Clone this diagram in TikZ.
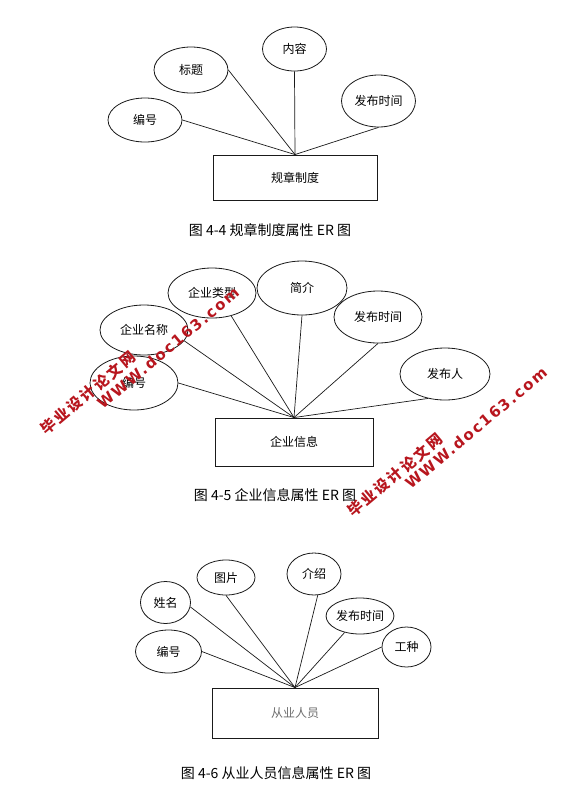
\documentclass[tikz,border=0pt]{standalone}
\usepackage{fontspec}
\setmainfont{Noto Sans CJK SC}
\newfontfamily\markfont[LetterSpace=12]{DejaVu Sans}
\newfontfamily\markcjk[LetterSpace=15]{Noto Sans CJK SC}
\usetikzlibrary{shapes.geometric}
\definecolor{ink}{HTML}{1A1A1A}
\definecolor{soft}{HTML}{6E6E6E}
\definecolor{stamp}{HTML}{B8161E}
\tikzset{
  attr/.style={draw=ink,ellipse,line width=.8pt,inner sep=0pt,
    font=\fontsize{12}{14}\selectfont},
  entity/.style={draw=ink,line width=.9pt,inner sep=0pt,
    font=\fontsize{12}{14}\selectfont},
  link/.style={draw=ink,line width=.7pt},
  figcap/.style={font=\fontsize{14}{16}\selectfont,inner sep=0pt},
  stampnote/.style={text=stamp,rotate=40,inner sep=0pt,
    font=\bfseries\fontsize{15}{17}\selectfont}
}

\begin{document}
\begin{tikzpicture}[x=1pt,y=-1pt]
\useasboundingbox[fill=white] (0,0) rectangle (585,812);

% figure 4-4
\node[attr,minimum width=74pt,minimum height=44pt] (bh1) at (145,120) {编号};
\node[attr,minimum width=74pt,minimum height=46pt] (bt1) at (191,70) {标题};
\node[attr,minimum width=64pt,minimum height=44pt] (nr1) at (294.5,49) {内容};
\node[attr,minimum width=74pt,minimum height=52pt] (fb1) at (378.5,101) {发布时间};
\node[entity,minimum width=164pt,minimum height=45pt] (gz) at (295,177.5) {规章制度};
\draw[link] (bh1.east)--(gz.north);
\draw[link] (bt1.east)--(gz.north);
\draw[link] (nr1.south)--(gz.north);
\draw[link] (fb1.south)--(gz.north);
\node[figcap] (cap1) at (270,230) {图 4-4 规章制度属性 ER 图};

% figure 4-5
\node[attr,minimum width=88pt,minimum height=54pt] (bh2) at (134,383) {编号};
\node[attr,minimum width=88pt,minimum height=50pt] (mc) at (144,330) {企业名称};
\node[attr,minimum width=88pt,minimum height=50pt] (lx) at (212,293) {企业类型};
\node[attr,minimum width=90pt,minimum height=54pt] (jj) at (302,288) {简介};
\node[attr,minimum width=88pt,minimum height=52pt] (fb2) at (378,317) {发布时间};
\node[attr,minimum width=90pt,minimum height=52pt] (fbr) at (445,374) {发布人};
\node[entity,minimum width=158pt,minimum height=48pt] (qy) at (294,442) {企业信息};
\draw[link] (bh2.east)--(qy.north);
\draw[link] (mc.-15)--(qy.north);
\draw[link] (lx.-50)--(qy.north);
\draw[link] (jj.south)--(qy.north);
\draw[link] (fb2.south)--(qy.north);
\draw[link] (fbr.-125)--(qy.north);
\node[figcap] (cap2) at (275,495) {图 4-5 企业信息属性 ER 图};

% figure 4-6
\node[attr,minimum width=66pt,minimum height=43pt] (bh3) at (168.5,651.5) {编号};
\node[attr,minimum width=50pt,minimum height=42pt] (xm) at (165.5,602.5) {姓名};
\node[attr,minimum width=58pt,minimum height=35pt] (tp) at (226,577.5) {图片};
\node[attr,minimum width=54pt,minimum height=42pt] (js) at (314,574) {介绍};
\node[attr,minimum width=56pt,minimum height=36pt] (fb3) at (360,616) {发布时间};
\node[attr,minimum width=49pt,minimum height=40pt] (gzh) at (406.5,647) {工种};
\node[entity,minimum width=166pt,minimum height=50pt,text=soft] (ry) at (295,713) {从业人员};
\draw[link] (bh3.east)--(ry.north);
\draw[link] (xm.-10)--(ry.north);
\draw[link] (tp.south)--(ry.north);
\draw[link] (js.-80)--(ry.north);
\draw[link] (fb3.-133)--(ry.north);
\draw[link] (gzh.west)--(ry.north);
\node[figcap] (cap3) at (276,773) {图 4-6 从业人员信息属性 ER 图};

% marks on top
\node[stampnote] (wm1a) at (88,393) {\markcjk 毕业设计论文网};
\node[stampnote] (wm1b) at (168,348) {\markfont WWW.doc163.com};
\node[stampnote] (wm2a) at (395,475) {\markcjk 毕业设计论文网};
\node[stampnote] (wm2b) at (476,428) {\markfont WWW.doc163.com};
\end{tikzpicture}
\end{document}
